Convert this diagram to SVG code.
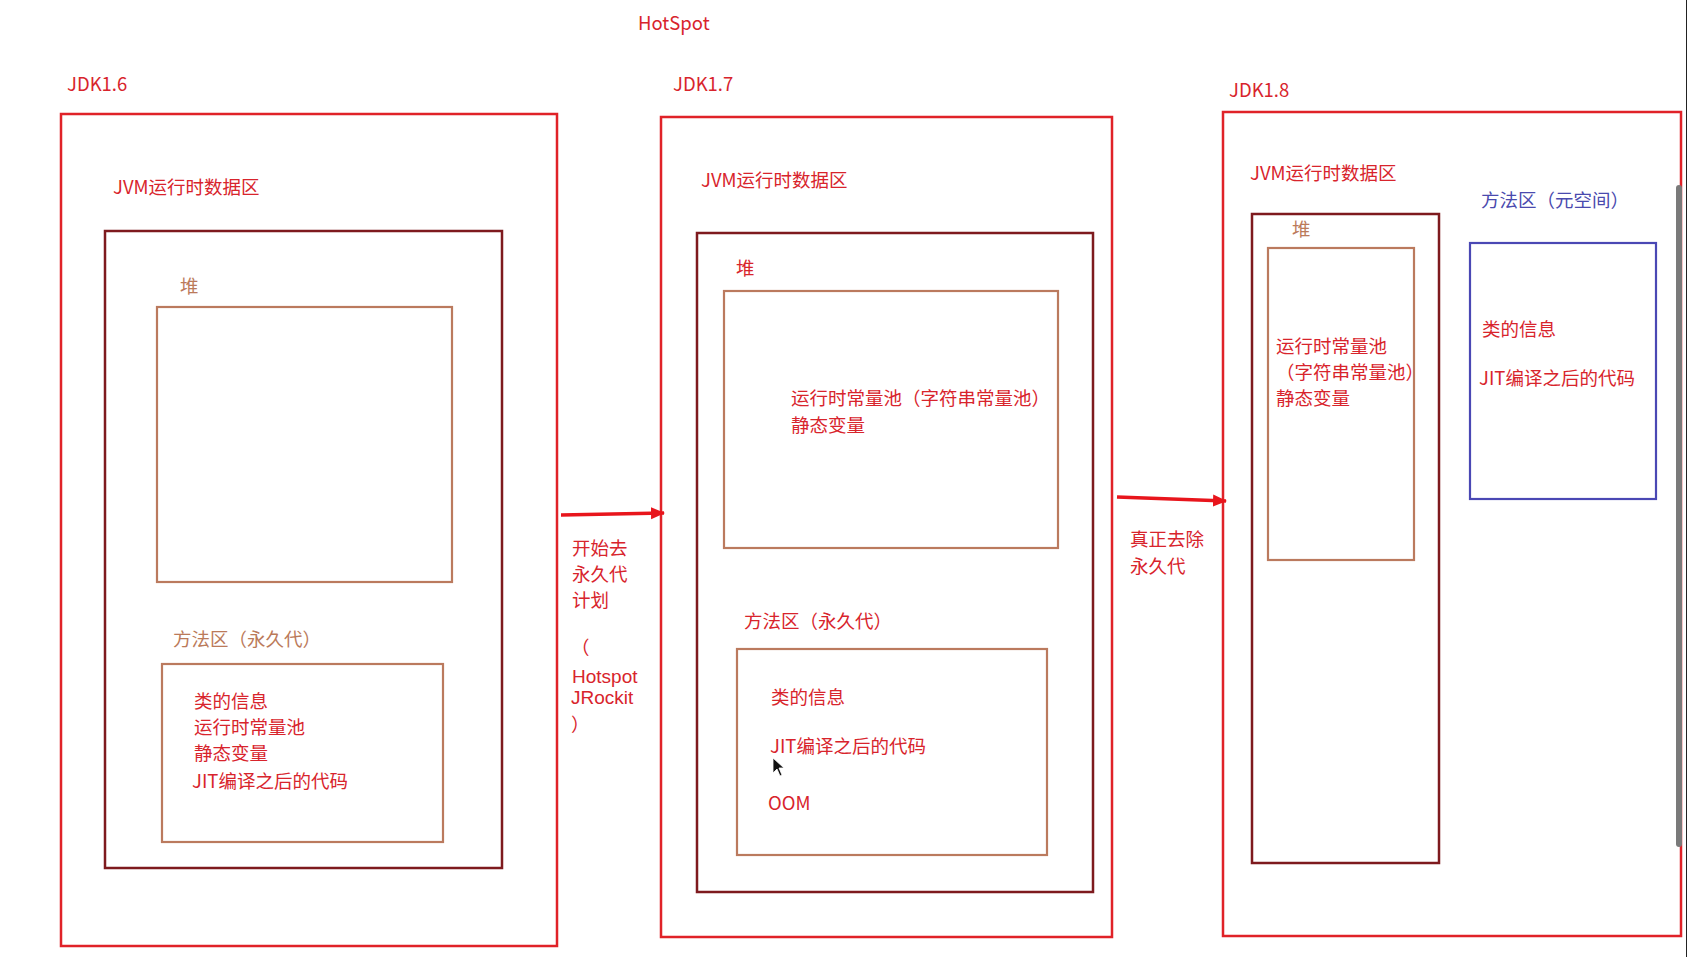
<svg xmlns="http://www.w3.org/2000/svg" width="1687" height="957" viewBox="0 0 1687 957">
<defs>
<style>
text{font-family:"Noto Sans CJK SC","Noto Sans",sans-serif;font-size:18.5px;fill:#d8242c}
.lat{font-family:"Liberation Sans",Arial,sans-serif;font-size:19px}
.outer{fill:none;stroke:#e02228;stroke-width:2.5}
.jvm{fill:none;stroke:#7e1a1e;stroke-width:2.5}
.heap{fill:none;stroke:#bb7a5e;stroke-width:2.2}
.meta{fill:none;stroke:#4a48b4;stroke-width:2.2}
.brown{fill:#bb7a5a}
.blue{fill:#4a4aae}
.conn{fill:none;stroke:#e8151c;stroke-width:3.5}
</style>
<marker id="ah" markerUnits="userSpaceOnUse" markerWidth="14" markerHeight="14" refX="13" refY="7" orient="auto">
<path d="M0,1 L14,7 L0,13 Z" fill="#e8151c"/>
</marker>
</defs>
<rect width="1687" height="957" fill="#ffffff"/>
<text x="638" y="30">HotSpot</text>

<g id="jdk16">
<text x="67" y="91">JDK1.6</text>
<rect class="outer" x="61" y="114" width="496" height="832"/>
<text x="113" y="194">JVM运行时数据区</text>
<rect class="jvm" x="105" y="231" width="397" height="637"/>
<text class="brown" x="180" y="293">堆</text>
<rect class="heap" x="157" y="307" width="295" height="275"/>
<text class="brown" x="173" y="646">方法区（永久代）</text>
<rect class="heap" x="162" y="664" width="281" height="178"/>
<text x="194" y="708">类的信息</text>
<text x="194" y="734">运行时常量池</text>
<text x="194" y="760">静态变量</text>
<text x="192" y="788">JIT编译之后的代码</text>
</g>

<g id="jdk17">
<text x="673" y="91">JDK1.7</text>
<rect class="outer" x="661" y="117" width="451" height="820"/>
<text x="701" y="187">JVM运行时数据区</text>
<rect class="jvm" x="697" y="233" width="396" height="659"/>
<text x="736" y="275">堆</text>
<rect class="heap" x="724" y="291" width="334" height="257"/>
<text x="791" y="405">运行时常量池（字符串常量池）</text>
<text x="791" y="432">静态变量</text>
<text x="744" y="628">方法区（永久代）</text>
<rect class="heap" x="737" y="649" width="310" height="206"/>
<text x="771" y="704">类的信息</text>
<text x="770" y="753">JIT编译之后的代码</text>
<text x="768" y="810">OOM</text>
</g>

<g id="jdk18">
<text x="1229" y="97">JDK1.8</text>
<rect class="outer" x="1223" y="112" width="458" height="824"/>
<text x="1250" y="180">JVM运行时数据区</text>
<rect class="jvm" x="1252" y="214" width="187" height="649"/>
<text class="brown" x="1292" y="236">堆</text>
<rect class="heap" x="1268" y="248" width="146" height="312"/>
<text x="1276" y="353">运行时常量池</text>
<text x="1276" y="379">（字符串常量池）</text>
<text x="1276" y="405">静态变量</text>
<text class="blue" x="1481" y="207">方法区（元空间）</text>
<rect class="meta" x="1470" y="243" width="186" height="256"/>
<text x="1482" y="336">类的信息</text>
<text x="1479" y="385">JIT编译之后的代码</text>
</g>

<g id="connectors">
<path class="conn" d="M561,515 L664,513" marker-end="url(#ah)"/>
<text x="572" y="555">开始去</text>
<text x="572" y="581">永久代</text>
<text x="572" y="607">计划</text>
<text x="571" y="654">（</text>
<text class="lat" x="572" y="683">Hotspot</text>
<text class="lat" x="571" y="704">JRockit</text>
<text x="571" y="731">）</text>
<path class="conn" d="M1117,497 L1226,501" marker-end="url(#ah)"/>
<text x="1130" y="546">真正去除</text>
<text x="1130" y="573">永久代</text>
</g>

<rect x="1676" y="185" width="6" height="662" rx="3" fill="#7a7a7a"/>
<line x1="1686.5" y1="0" x2="1686.5" y2="957" stroke="#222" stroke-width="1"/>
<path d="M773,758 L773,773 L777,769 L780,776 L782,775 L779,768 L784,768 Z" fill="#111" stroke="#fff" stroke-width="0.8"/>
</svg>
